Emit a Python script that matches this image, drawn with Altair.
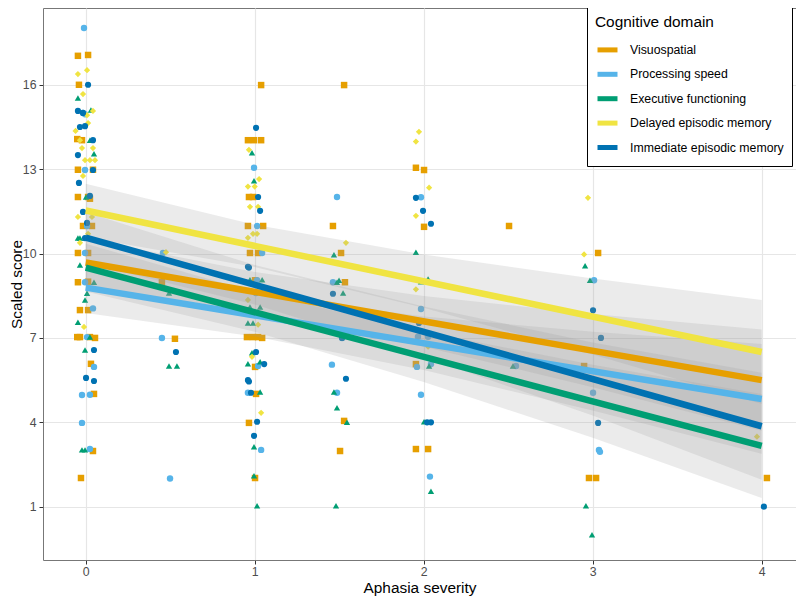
import altair as alt
import pandas as pd

domains = ["Visuospatial", "Processing speed", "Executive functioning",
           "Delayed episodic memory", "Immediate episodic memory"]
colors = ["#E69F00", "#56B4E9", "#009E73", "#F0E442", "#0072B2"]
shapes = ["square", "circle", "triangle-up", "diamond", "circle"]
sizes = [42, 38, 42, 16, 40]

vis_pts = [(-0.046, 17.03), (0.014, 17.06), (-0.04, 16.0), (-0.05, 14.07), (-0.022, 14.03),
           (-0.046, 12.98), (0.043, 12.98), (-0.046, 12.01), (0.014, 12.01), (0.025, 11.95),
           (-0.016, 10.98), (0.037, 10.98), (-0.046, 10.02), (0.014, 10.02), (-0.046, 8.98),
           (0.014, 9.0), (-0.034, 7.99), (0.014, 7.99), (-0.05, 7.03), (-0.034, 7.03),
           (0.025, 7.03), (0.055, 7.0), (0.031, 6.08), (0.049, 5.01), (0.043, 2.98), (-0.028, 2.02),
           (0.528, 6.97), (0.451, 8.98),
           (1.038, 15.99), (0.96, 14.03), (0.996, 14.03), (1.038, 14.03), (0.966, 12.01),
           (0.99, 12.01), (0.96, 10.98), (1.05, 10.98), (0.972, 10.02), (1.02, 10.02),
           (1.002, 9.05), (0.954, 7.03), (0.99, 7.03), (1.02, 7.03), (1.044, 7.0), (1.002, 5.97),
           (1.008, 5.01), (0.966, 3.98), (1.002, 2.02),
           (1.529, 15.99), (1.463, 10.98), (1.511, 10.02), (1.534, 8.98), (1.529, 4.05), (1.505, 2.98),
           (1.954, 13.05), (2.002, 12.97), (2.002, 10.95), (1.954, 6.07), (1.954, 3.05), (2.026, 3.05),
           (2.505, 10.98), (3.032, 10.02), (2.949, 6.0), (2.978, 2.02), (3.02, 2.02), (4.031, 2.02)]
proc_pts = [(-0.01, 18.02), (-0.016, 15.0), (-0.004, 14.95), (-0.004, 12.97), (0.008, 10.98),
            (-0.004, 10.02), (-0.004, 8.98), (0.043, 8.05), (0.008, 7.03), (0.049, 5.97),
            (-0.022, 4.97), (0.025, 4.98), (-0.022, 3.98), (0.025, 3.05),
            (0.451, 7.0), (0.499, 2.0), (0.457, 10.02),
            (0.996, 13.05), (1.014, 10.98), (1.044, 10.02), (1.014, 9.05), (1.008, 8.6),
            (1.02, 6.0), (0.96, 5.05), (1.038, 3.02),
            (1.487, 12.01), (1.463, 8.98), (1.517, 7.0), (1.457, 6.05), (1.487, 5.05),
            (1.984, 12.0), (1.984, 8.03), (1.966, 7.04), (2.026, 7.04), (1.96, 5.97), (2.043, 6.07),
            (1.984, 4.98), (2.037, 2.07), (2.546, 6.0),
            (3.008, 9.05), (3.002, 5.05), (3.037, 3.02), (3.043, 2.95)]
exec_pts = [(-0.046, 15.53), (0.031, 15.1), (0.049, 13.55), (0.025, 14.03), (0.002, 12.01),
            (-0.046, 10.55), (-0.034, 10.55), (-0.004, 10.55), (-0.034, 9.59), (0.025, 9.59),
            (0.049, 8.98), (0.008, 8.59), (-0.004, 8.35), (-0.046, 7.56), (0.025, 7.03),
            (-0.004, 6.57), (-0.022, 3.02), (-0.004, 3.02),
            (0.493, 6.0), (0.54, 6.0), (0.493, 8.6),
            (0.984, 13.58), (0.996, 12.59), (0.972, 9.07), (1.044, 9.07), (0.972, 8.1), (1.032, 8.1),
            (0.96, 7.53), (0.99, 7.53), (0.984, 6.47), (0.96, 6.08), (1.032, 6.15), (1.032, 5.08),
            (0.996, 3.13), (0.996, 2.1), (1.014, 1.03),
            (1.469, 9.96), (1.487, 8.98), (1.499, 9.05), (1.523, 8.6), (1.469, 5.08), (1.487, 4.52),
            (1.546, 4.0), (1.481, 1.03),
            (1.954, 10.05), (1.984, 9.0), (2.026, 9.1), (2.032, 6.0), (2.002, 4.02), (2.043, 1.55),
            (2.528, 6.0), (2.955, 9.57), (2.984, 9.05), (2.96, 1.03), (2.996, 0.0)]
delay_pts = [(-0.046, 16.38), (0.008, 16.52), (-0.016, 15.67), (0.043, 15.07), (0.008, 14.92),
             (-0.06, 14.36), (0.014, 14.64), (-0.034, 14.03), (-0.022, 13.75), (0.043, 13.75),
             (-0.004, 13.32), (0.025, 13.32), (0.055, 13.32), (-0.016, 12.76), (-0.046, 11.3),
             (0.037, 11.3), (0.014, 10.7), (-0.034, 10.38), (-0.01, 7.39),
             (0.475, 10.05),
             (0.966, 13.69), (1.026, 12.65), (0.96, 12.38), (1.0, 12.38), (0.972, 11.66), (1.02, 11.66),
             (0.99, 10.7), (1.014, 10.7), (0.96, 10.56), (0.96, 8.35), (1.02, 7.47), (0.984, 6.33),
             (1.038, 4.34), (1.54, 10.38),
             (1.972, 14.33), (1.954, 13.98), (2.032, 12.34), (1.954, 11.34), (1.954, 8.73), (2.026, 6.69),
             (2.972, 11.98), (2.949, 9.97), (3.972, 3.49)]
immed_pts = [(0.014, 16.0), (-0.046, 15.07), (-0.016, 15.0), (-0.034, 14.5), (-0.004, 14.53),
             (0.043, 14.03), (-0.046, 13.5), (0.043, 12.97), (-0.04, 12.51), (0.025, 12.05),
             (-0.016, 11.48), (0.008, 11.09), (-0.004, 10.55), (0.049, 6.57), (0.002, 5.58),
             (0.049, 5.47), (0.534, 6.5),
             (1.008, 14.47), (1.02, 12.01), (1.032, 11.52), (0.96, 9.53), (0.966, 9.5), (1.008, 6.5),
             (1.056, 6.07), (0.96, 5.5), (0.966, 5.45), (0.978, 5.05), (1.014, 4.02), (0.996, 3.52),
             (1.463, 8.57), (1.517, 7.0), (1.54, 5.55),
             (1.954, 11.98), (1.996, 11.52), (2.043, 11.06), (1.972, 7.53), (2.02, 4.0), (2.043, 4.0),
             (3.002, 7.98), (3.049, 7.0), (3.032, 3.98), (4.013, 1.0)]

# fitted lines (value at severity 0 and 4) and confidence bands at 0..4
fit_x = [0, 4]
fit_vis = [9.68, 5.5]
fit_proc = [8.79, 4.83]
fit_exec = [9.5, 3.16]
fit_delay = [11.53, 6.5]
fit_immed = [10.57, 3.86]

band_x = [0, 1, 2, 3, 4]
band_vis_lo = [8.83, 7.94, 6.69, 5.25, 3.7]
band_vis_hi = [10.53, 9.34, 8.49, 7.85, 7.3]
band_proc_lo = [7.89, 7.05, 5.86, 4.42, 2.88]
band_proc_hi = [9.69, 8.55, 7.76, 7.22, 6.78]
band_exec_lo = [8.65, 7.22, 5.43, 3.45, 1.31]
band_exec_hi = [10.35, 8.62, 7.23, 6.05, 5.01]
band_delay_lo = [10.58, 9.52, 8.07, 6.41, 4.65]
band_delay_hi = [12.48, 11.02, 9.97, 9.11, 8.35]
band_immed_lo = [9.67, 8.19, 6.32, 4.24, 1.96]
band_immed_hi = [11.47, 9.59, 8.12, 6.84, 5.76]

pts_all = [vis_pts, proc_pts, exec_pts, delay_pts, immed_pts]
fits = [fit_vis, fit_proc, fit_exec, fit_delay, fit_immed]
bands = [(band_vis_lo, band_vis_hi), (band_proc_lo, band_proc_hi), (band_exec_lo, band_exec_hi),
         (band_delay_lo, band_delay_hi), (band_immed_lo, band_immed_hi)]

pts_rows, fit_rows, band_rows = [], [], []
for i, d in enumerate(domains):
    for x, y in pts_all[i]:
        pts_rows.append({"sev": x, "score": y, "domain": d, "k": i})
    for x, y in zip(fit_x, fits[i]):
        fit_rows.append({"sev": x, "score": y, "domain": d, "k": i})
    for x, lo, hi in zip(band_x, bands[i][0], bands[i][1]):
        band_rows.append({"sev": x, "lo": lo, "hi": hi, "domain": d, "k": i})

pts_df = pd.DataFrame(pts_rows)
fit_df = pd.DataFrame(fit_rows)
band_df = pd.DataFrame(band_rows)

xscale = alt.Scale(domain=[-0.2527, 4.203], nice=False, zero=False)
yscale = alt.Scale(domain=[-0.895, 18.73], nice=False, zero=False)

xaxis = alt.Axis(values=[0, 1, 2, 3, 4], format="d", title="Aphasia severity",
                 titleY=32, titleBaseline="alphabetic")
yaxis = alt.Axis(values=[1, 4, 7, 10, 13, 16], format="d", title="Scaled score",
                 titleX=-22, titleY=276, titleAngle=270, titleBaseline="alphabetic",
                 titleAlign="center")

points = alt.Chart(pts_df).mark_point(filled=True, opacity=1).encode(
    x=alt.X("sev:Q", scale=xscale, axis=xaxis),
    y=alt.Y("score:Q", scale=yscale, axis=yaxis),
    color=alt.Color("domain:N", scale=alt.Scale(domain=domains, range=colors), legend=None),
    shape=alt.Shape("domain:N", scale=alt.Scale(domain=domains, range=shapes), legend=None),
    size=alt.Size("domain:N", scale=alt.Scale(domain=domains, range=sizes), legend=None),
)

band = alt.Chart(band_df).mark_area(color="#999999", opacity=0.2).encode(
    x=alt.X("sev:Q", scale=xscale),
    y=alt.Y("lo:Q", scale=yscale),
    y2="hi:Q",
    detail="domain:N",
)

lines = alt.Chart(fit_df).mark_line(strokeWidth=6.5, strokeCap="butt").encode(
    x=alt.X("sev:Q", scale=xscale),
    y=alt.Y("score:Q", scale=yscale),
    color=alt.Color("domain:N", scale=alt.Scale(domain=domains, range=colors), sort=domains,
                    legend=alt.Legend(
                        title="Cognitive domain", orient="none", legendX=544, legendY=-1,
                        direction="vertical", symbolType="stroke", symbolStrokeWidth=5,
                        symbolSize=400, padding=8, strokeColor="black", fillColor="white",
                        cornerRadius=0, titleFontSize=15.4, titleFontWeight="normal",
                        titleColor="black", labelFontSize=12.3, labelColor="black",
                        labelOffset=10, rowPadding=1.4, titlePadding=7, symbolOpacity=1)),
    order="k:Q",
)

chart = alt.layer(points, band, lines).resolve_scale(
    color="independent"
).properties(
    width=753, height=552,
    autosize=alt.AutoSizeParams(type="none"),
    padding={"left": 35, "top": 0, "right": 0, "bottom": 40},
).configure(font="Liberation Sans").configure_view(
    stroke="#777777", strokeWidth=1
).configure_axis(
    grid=True, gridColor="#e6e6e6", gridWidth=1.2, domain=False,
    tickColor="#333333", tickSize=4, labelColor="#4d4d4d", labelFontSize=12.3,
    titleFontSize=15.4, titleFontWeight="normal", titleColor="black",
).configure_axisY(labelPadding=3).configure_axisX(labelPadding=1)

chart.save("out.html", embed_options={"renderer": "svg", "actions": False})
